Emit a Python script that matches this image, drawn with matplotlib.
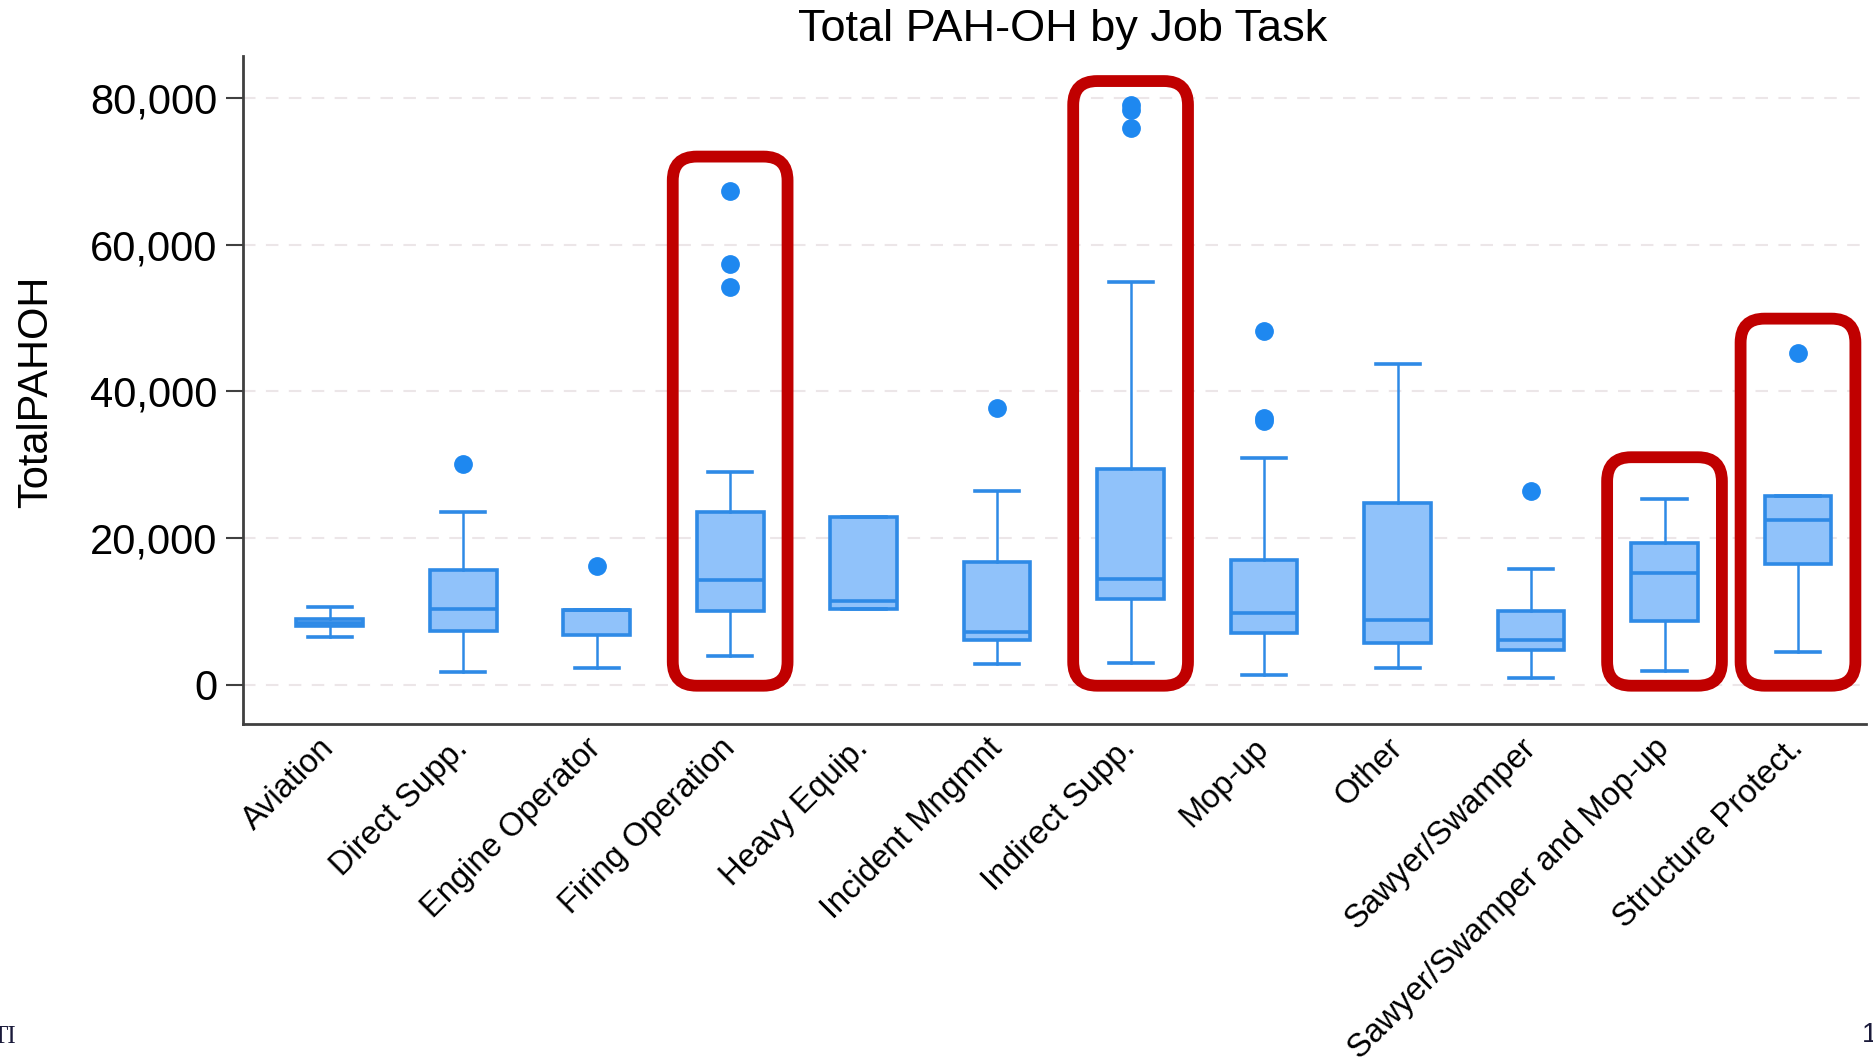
import matplotlib
matplotlib.use("Agg")
import matplotlib.pyplot as plt
from matplotlib.patches import FancyBboxPatch
from matplotlib.ticker import FuncFormatter

plt.rcParams['font.family'] = ['Liberation Sans', 'DejaVu Sans']

categories = ["Aviation", "Direct Supp.", "Engine Operator", "Firing Operation",
              "Heavy Equip.", "Incident Mngmnt", "Indirect Supp.", "Mop-up",
              "Other", "Sawyer/Swamper", "Sawyer/Swamper and Mop-up",
              "Structure Protect."]
whisker_lo = [6500, 1650, 2200, 3950, 10300, 2850, 2950, 1350, 2300, 950, 1900, 4400]
q1 = [7950, 7300, 6700, 10050, 10300, 6050, 11700, 7000, 5600, 4750, 8650, 16450]
median = [8400, 10350, 10200, 14300, 11350, 7100, 14450, 9800, 8750, 6100, 15250, 22500]
q3 = [9000, 15600, 10200, 23550, 22900, 16750, 29400, 17000, 24700, 10050, 19300, 25700]
whisker_hi = [10550, 23550, 10200, 29050, 22900, 26350, 54850, 30950, 43700, 15750, 25250, 25700]
outliers = [[], [30050], [16100], [67300, 57300, 54200], [], [37750],
            [79000, 78300, 75900], [48200, 36400, 35900], [], [26400], [], [45150]]

# presenter's red highlight frames (category, top value, bottom value)
highlighted = ["Firing Operation", "Indirect Supp.", "Sawyer/Swamper and Mop-up",
               "Structure Protect."]
highlight_top = [72000, 82300, 31000, 49900]
highlight_bottom = [-160, -160, -160, -160]

y_ticks = [0, 20000, 40000, 60000, 80000]

fig = plt.figure(figsize=(18.73, 10.59), dpi=100)
ax = fig.add_axes([0.1295, 0.3163, 0.8668, 0.6308])

stats = []
for i, c in enumerate(categories):
    stats.append(dict(label=c, med=median[i], q1=q1[i], q3=q3[i],
                      whislo=whisker_lo[i], whishi=whisker_hi[i], fliers=outliers[i]))

edge = "#2e8ae6"
face = "#90c2fa"
positions = list(range(len(categories)))
ax.bxp(stats, positions=positions, widths=0.5, capwidths=0.33, patch_artist=True,
       boxprops=dict(facecolor=face, edgecolor=edge, linewidth=2.6),
       medianprops=dict(color=edge, linewidth=2.6),
       whiskerprops=dict(color=edge, linewidth=1.8),
       capprops=dict(color=edge, linewidth=2.6),
       flierprops=dict(marker='o', markerfacecolor="#1e88f0", markeredgecolor="#1e88f0",
                       markersize=12.5, linestyle='none'),
       zorder=3)

for name, top, bot in zip(highlighted, highlight_top, highlight_bottom):
    i = categories.index(name)
    box = FancyBboxPatch((i - 0.43, bot), 0.86, top - bot,
                         boxstyle="round,pad=0,rounding_size=0.18",
                         mutation_aspect=18200,
                         fill=False, edgecolor="#c00000", linewidth=8.5, zorder=5,
                         clip_on=False)
    ax.add_patch(box)

ax.set_xlim(-0.653, 11.51)
ax.set_ylim(-5387, 85714)
ax.set_yticks(y_ticks)
ax.yaxis.set_major_formatter(FuncFormatter(lambda v, p: f"{int(v):,}"))
ax.tick_params(axis='y', labelsize=30, length=12, width=1.5, color="#404040", pad=6)
ax.tick_params(axis='x', length=0, pad=14)
ax.set_xticks(positions)
ax.set_xticklabels(categories, rotation=45, ha='right', va='center',
                   rotation_mode='anchor', fontsize=23.5)

ax.grid(axis='y', linestyle=(0, (6, 5)), color="#ece6e8", linewidth=1.5, zorder=0)
ax.spines['top'].set_visible(False)
ax.spines['right'].set_visible(False)
for s in ['left', 'bottom']:
    ax.spines[s].set_color("#404040")
    ax.spines[s].set_linewidth(2)

fig.text(0.0192, 0.63, "TotalPAHOH", rotation=90, ha='center', va='center', fontsize=30)
fig.text(0.5675, 0.972, "Total PAH-OH by Job Task", ha='center', va='center', fontsize=32.5)

fig.text(-0.004, 0.01, "TI", family=['Liberation Serif'], fontsize=18, color="#1a1a3a",
         ha='left', va='bottom')
fig.text(0.994, 0.01, "1", fontsize=20, color="#1a1a3a", ha='left', va='bottom')

fig.savefig("out.png", dpi=100, facecolor='white')
